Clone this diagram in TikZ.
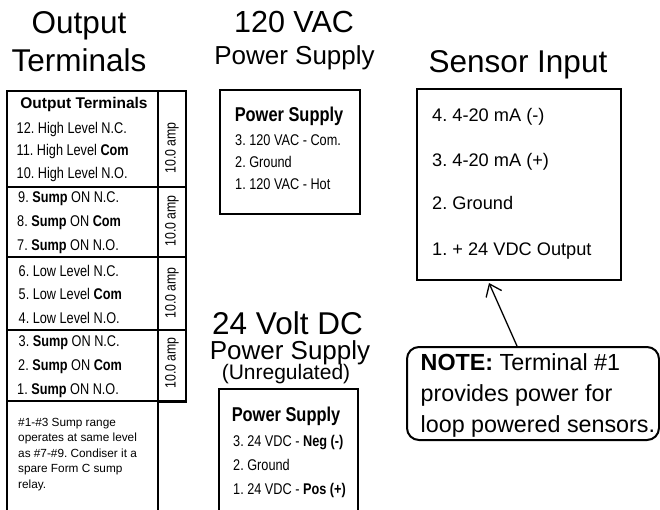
\documentclass[tikz,border=0pt]{standalone}
\usepackage{fontspec}
\setmainfont{Liberation Sans}
\newfontfamily\narrowfont[FakeStretch=0.82]{Liberation Sans}
\usetikzlibrary{arrows.meta,calc}
\AtBeginDocument{\frenchspacing}
\begin{document}
\begin{tikzpicture}[x=1pt,y=-1pt,
  box/.style={draw,line width=2pt,inner sep=0pt,anchor=north west},
  divline/.style={line width=1.2pt},
  bigtitle/.style={anchor=base,inner sep=0pt,font=\fontsize{31.5}{34}\selectfont},
  subtitle/.style={anchor=base,inner sep=0pt,font=\fontsize{26}{28}\selectfont},
  item/.style={anchor=base west,inner sep=0pt,font=\narrowfont\fontsize{15.5}{18}\selectfont},
  boxhead/.style={anchor=base,inner sep=0pt,font=\narrowfont\bfseries\fontsize{20}{22}\selectfont},
  amp/.style={rotate=90,inner sep=0pt,font=\narrowfont\fontsize{15}{17}\selectfont},
  sensoritem/.style={anchor=base west,inner sep=0pt,font=\fontsize{18.2}{20}\selectfont},
  smallnote/.style={anchor=base west,inner sep=0pt,font=\fontsize{11.8}{14}\selectfont},
  bignote/.style={anchor=base west,inner sep=0pt,font=\fontsize{23.3}{26}\selectfont},
  pointer/.style={-{Straight Barb[length=11pt,width=17pt]},line width=1.3pt}
]
\useasboundingbox[fill=white] (0,0) rectangle (660,510);
\clip (0,0) rectangle (660,510);

% ---------- Output terminals ----------
\node[bigtitle] (tOut1) at (79,34) {Output};
\node[bigtitle] (tOut2) at (79,72) {Terminals};

\node[box,minimum width=151pt,minimum height=440pt] (outleft) at (6,90) {};
\node[box,minimum width=28pt,minimum height=311pt] (outamp) at (157,90) {};
\draw[divline] (6,187) -- (185,187);
\draw[divline] (6,257) -- (185,257);
\draw[divline] (6,330) -- (185,330);
\draw[line width=2pt] (6,401) -- (185,401);

\node[anchor=base,inner sep=0pt,font=\bfseries\fontsize{15.5}{18}\selectfont] (ohead) at (84,109) {Output Terminals};
\node[item] (o12) at (16.5,133.5) {12. High Level N.C.};
\node[item] (o11) at (16.5,155.5) {11. High Level \textbf{Com}};
\node[item] (o10) at (16.5,178.5) {10. High Level N.O.};
\node[item] (o9) at (18,202.5) {9. \textbf{Sump} ON N.C.};
\node[item] (o8) at (17,226.5) {8. \textbf{Sump} ON \textbf{Com}};
\node[item] (o7) at (17,250.5) {7. \textbf{Sump} ON N.O.};
\node[item] (o6) at (18.5,276.5) {6. Low Level N.C.};
\node[item] (o5) at (18.5,299.5) {5. Low Level \textbf{Com}};
\node[item] (o4) at (18.5,323.5) {4. Low Level N.O.};
\node[item] (o3) at (18.5,346.5) {3. \textbf{Sump} ON N.C.};
\node[item] (o2) at (18,370.5) {2. \textbf{Sump} ON \textbf{Com}};
\node[item] (o1) at (17,394.5) {1. \textbf{Sump} ON N.O.};

\node[amp] (amp1) at (172,148) {10.0 amp};
\node[amp] (amp2) at (172,221) {10.0 amp};
\node[amp] (amp3) at (172,293) {10.0 amp};
\node[amp] (amp4) at (172,363) {10.0 amp};

\node[smallnote] (sn1) at (18,426) {\#1-\#3 Sump range};
\node[smallnote] (sn2) at (18,441.5) {operates at same level};
\node[smallnote] (sn3) at (18,457) {as \#7-\#9. Condiser it a};
\node[smallnote] (sn4) at (18,472.5) {spare Form C sump};
\node[smallnote] (sn5) at (18,488) {relay.};

% ---------- 120 VAC supply ----------
\node[bigtitle,font=\fontsize{30.5}{33}\selectfont] (tAC1) at (294,33) {120 VAC};
\node[subtitle] (tAC2) at (294.5,65) {Power Supply};
\node[box,minimum width=140pt,minimum height=124pt] (ps1) at (219,89) {};
\node[boxhead] (ps1h) at (289,122) {Power Supply};
\node[item] (ps1a) at (235,145.5) {3. 120 VAC - Com.};
\node[item] (ps1b) at (235,167.5) {2. Ground};
\node[item] (ps1c) at (235,189.5) {1. 120 VAC - Hot};

% ---------- 24 V DC supply ----------
\node[bigtitle] (tDC1) at (287.5,334.5) {24 Volt DC};
\node[subtitle] (tDC2) at (290,359.5) {Power Supply};
\node[anchor=base,inner sep=0pt,font=\fontsize{21}{23}\selectfont] (tDC3) at (286,379.5) {(Unregulated)};
\node[box,minimum width=139pt,minimum height=140pt] (ps2) at (218,388) {};
\node[boxhead] (ps2h) at (286,421) {Power Supply};
\node[item] (ps2a) at (233,446.5) {3. 24 VDC - \textbf{Neg (-)}};
\node[item] (ps2b) at (233,470.5) {2. Ground};
\node[item] (ps2c) at (233,494.5) {1. 24 VDC - \textbf{Pos (+)}};

% ---------- Sensor input ----------
\node[bigtitle] (tSen) at (518,73) {Sensor Input};
\node[box,minimum width=204pt,minimum height=191pt] (sensor) at (416,88) {};
\node[sensoritem] (s4) at (432,121.5) {4. 4-20 mA (-)};
\node[sensoritem] (s3) at (432,166.5) {3. 4-20 mA (+)};
\node[sensoritem] (s2) at (432,210) {2. Ground};
\node[sensoritem] (s1) at (432,255) {1. + 24 VDC Output};

% ---------- Note ----------
\node[box,rounded corners=12pt,minimum width=252pt,minimum height=93pt] (note) at (406,346) {};
\node[bignote] (nt1) at (420.5,370) {\textbf{NOTE:} Terminal \#1};
\node[bignote] (nt2) at (420.5,401) {provides power for};
\node[bignote] (nt3) at (420.5,432) {loop powered sensors.};

\coordinate (tail) at ($(note.north west)+(111,0)$);
\coordinate (tip) at ($(sensor.south west)+(73,2)$);
\draw[pointer] (tail) -- (tip);
\end{tikzpicture}
\end{document}
